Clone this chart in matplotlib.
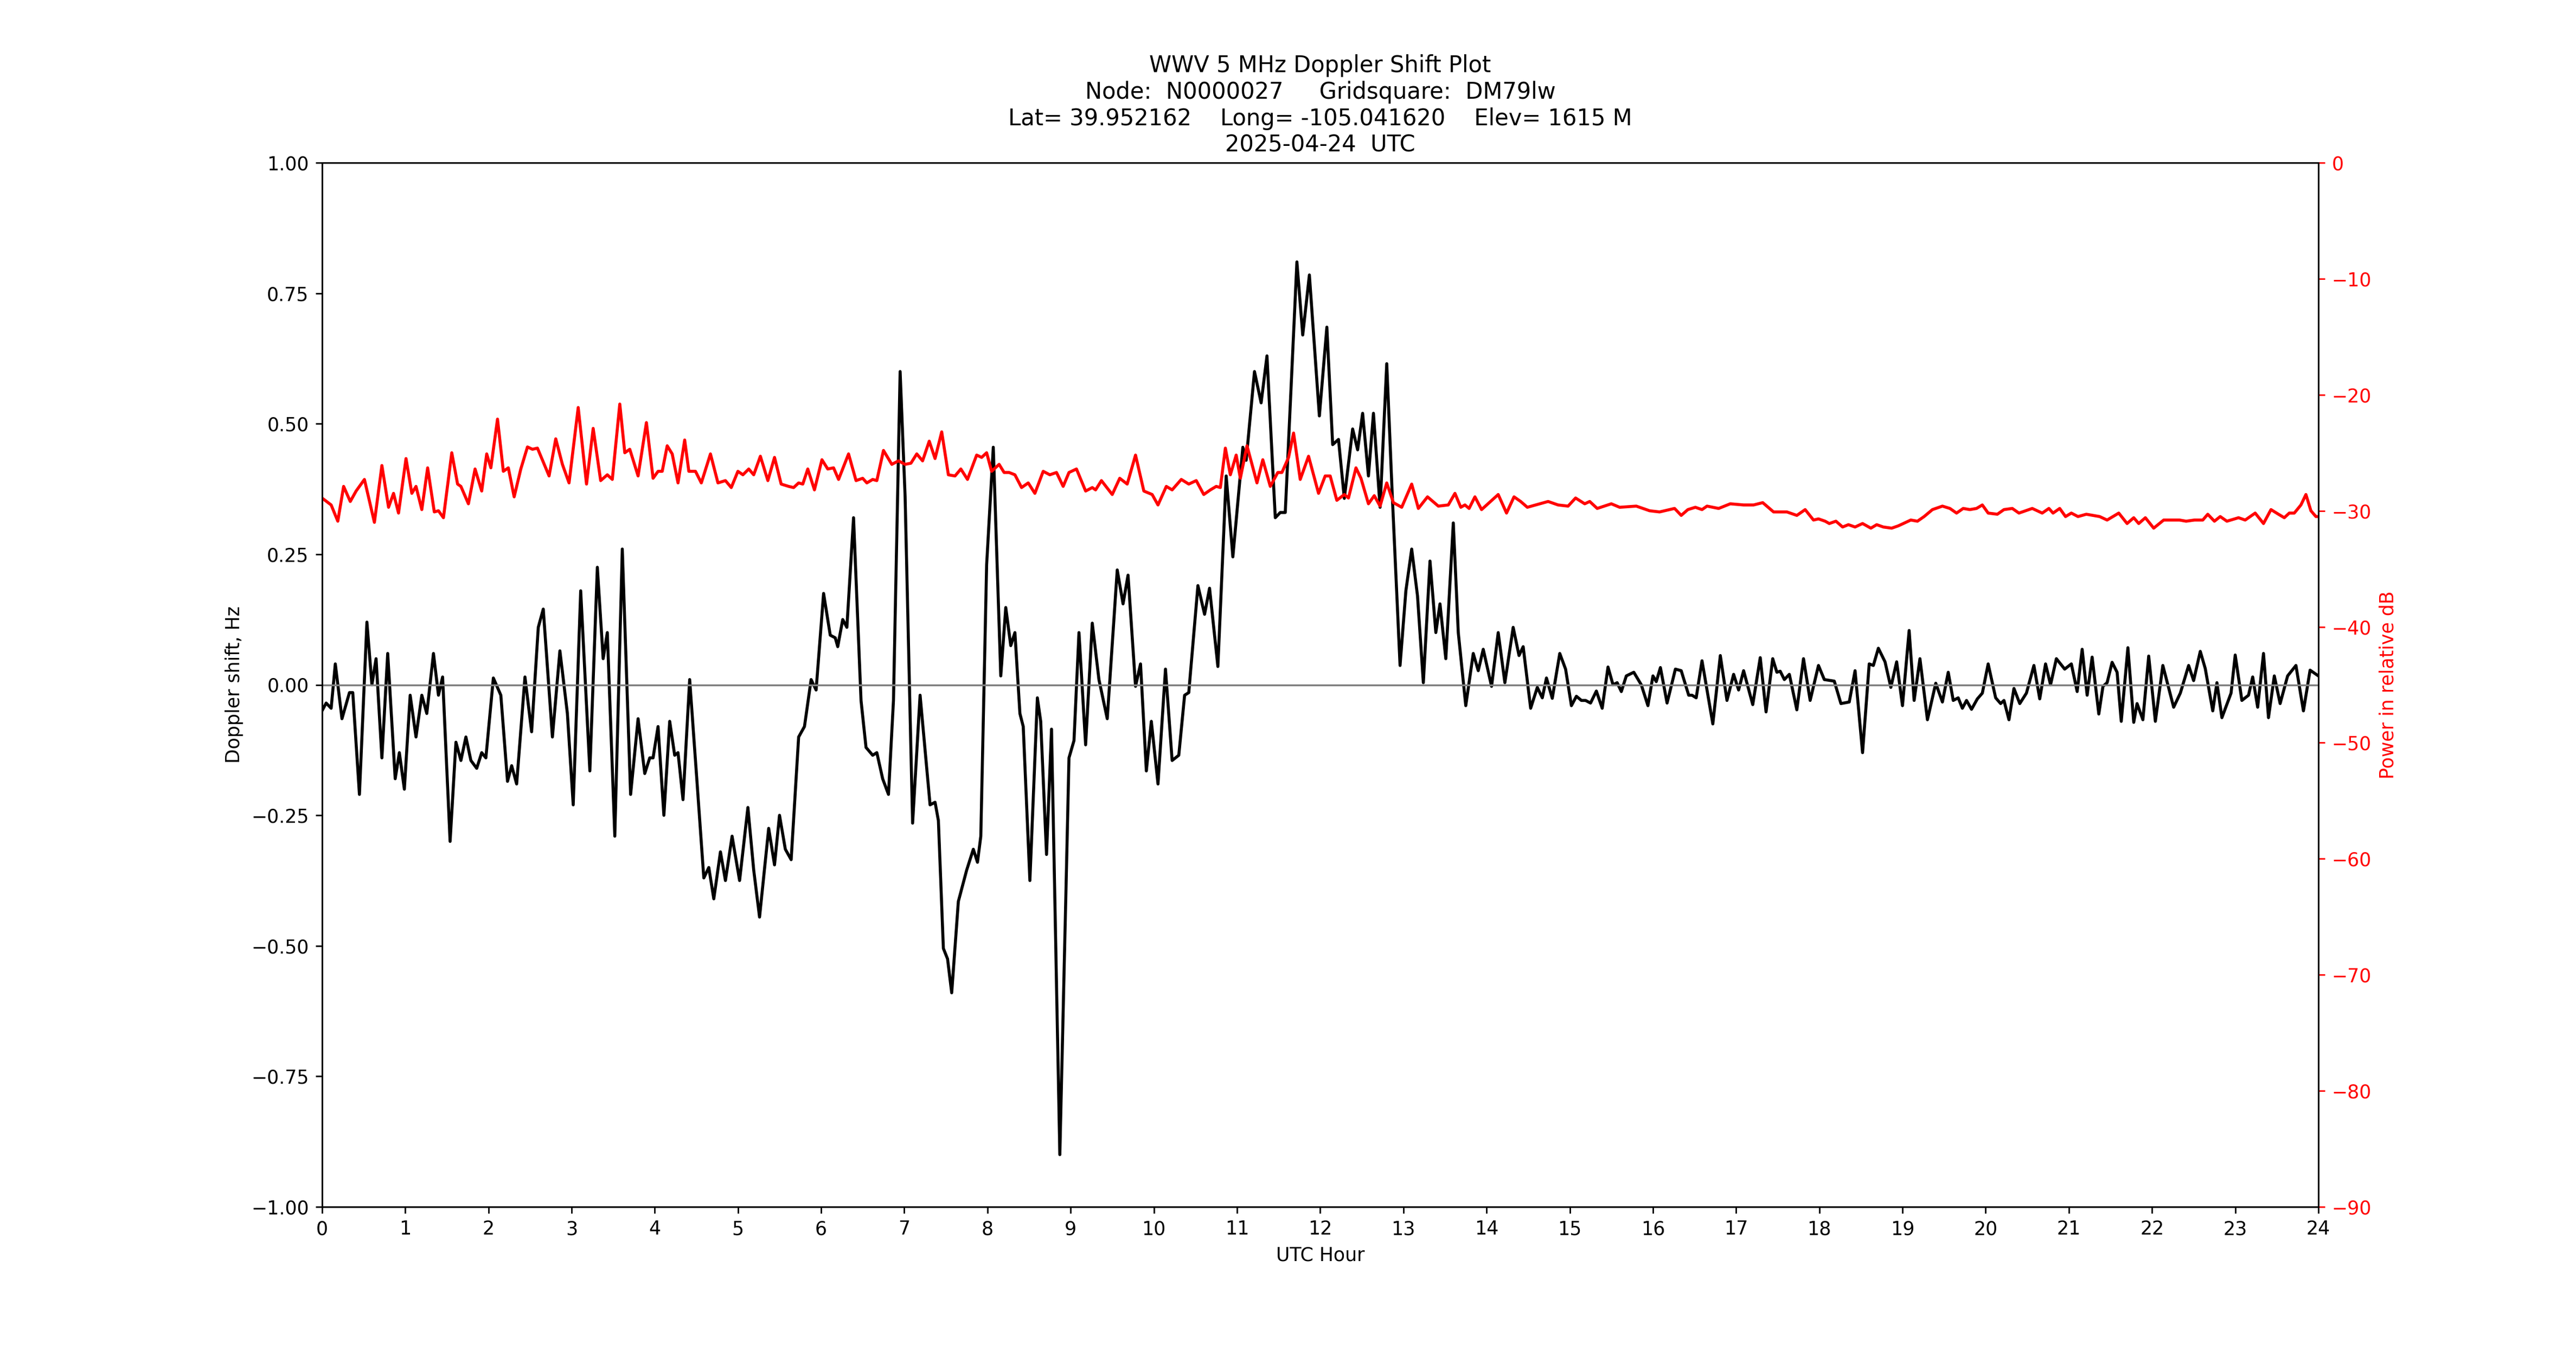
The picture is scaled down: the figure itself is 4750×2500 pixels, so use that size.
import numpy as np
import matplotlib.pyplot as plt

# Doppler shift (Hz), (UTC hour, value)
doppler_pts = [
    (0.00, -0.05), (0.05, -0.035), (0.11, -0.045), (0.16, 0.04), (0.24, -0.065), (0.33, -0.015), (0.37, -0.015),
    (0.45, -0.21), (0.54, 0.12), (0.60, 0.0), (0.65, 0.05), (0.72, -0.14), (0.79, 0.06), (0.88, -0.18),
    (0.93, -0.13), (0.99, -0.20), (1.06, -0.02), (1.13, -0.10), (1.20, -0.02), (1.26, -0.055), (1.34, 0.06),
    (1.40, -0.02), (1.45, 0.015), (1.54, -0.30), (1.61, -0.11), (1.67, -0.145), (1.73, -0.10), (1.79, -0.145),
    (1.86, -0.16), (1.92, -0.13), (1.97, -0.14), (2.06, 0.013), (2.15, -0.02), (2.23, -0.185), (2.28, -0.155),
    (2.34, -0.19), (2.44, 0.015), (2.52, -0.09), (2.60, 0.11), (2.66, 0.145), (2.77, -0.10), (2.86, 0.065),
    (2.95, -0.055), (3.02, -0.23), (3.11, 0.18), (3.22, -0.165), (3.31, 0.225), (3.38, 0.05), (3.43, 0.10),
    (3.52, -0.29), (3.61, 0.26), (3.71, -0.21), (3.80, -0.065), (3.88, -0.17), (3.94, -0.14), (3.98, -0.14),
    (4.04, -0.08), (4.11, -0.25), (4.18, -0.07), (4.24, -0.135), (4.28, -0.13), (4.34, -0.22), (4.42, 0.01),
    (4.51, -0.19), (4.59, -0.37), (4.65, -0.35), (4.71, -0.41), (4.79, -0.32), (4.85, -0.375), (4.93, -0.29),
    (5.02, -0.375), (5.12, -0.235), (5.19, -0.355), (5.26, -0.445), (5.37, -0.275), (5.44, -0.345),
    (5.50, -0.25), (5.57, -0.315), (5.64, -0.335), (5.73, -0.10), (5.80, -0.08), (5.88, 0.01), (5.94, -0.01),
    (6.03, 0.175), (6.11, 0.095), (6.17, 0.09), (6.20, 0.073), (6.26, 0.125), (6.31, 0.11), (6.39, 0.32),
    (6.48, -0.03), (6.54, -0.12), (6.62, -0.135), (6.67, -0.13), (6.74, -0.18), (6.81, -0.21), (6.87, -0.03),
    (6.95, 0.60), (7.01, 0.36), (7.10, -0.265), (7.19, -0.02), (7.31, -0.23), (7.37, -0.225), (7.41, -0.26),
    (7.47, -0.505), (7.52, -0.525), (7.57, -0.59), (7.65, -0.415), (7.75, -0.355), (7.83, -0.315),
    (7.88, -0.34), (7.92, -0.29), (7.99, 0.23), (8.07, 0.455), (8.12, 0.21), (8.16, 0.017), (8.22, 0.148),
    (8.28, 0.075), (8.33, 0.10), (8.39, -0.055), (8.43, -0.08), (8.51, -0.375), (8.60, -0.025), (8.64, -0.07),
    (8.71, -0.325), (8.77, -0.085), (8.87, -0.90), (8.94, -0.42), (8.98, -0.14), (9.04, -0.107), (9.10, 0.10),
    (9.18, -0.115), (9.26, 0.118), (9.34, 0.01), (9.44, -0.065), (9.56, 0.22), (9.63, 0.155), (9.69, 0.21),
    (9.78, -0.003), (9.84, 0.04), (9.91, -0.165), (9.97, -0.07), (10.05, -0.19), (10.14, 0.03),
    (10.22, -0.145), (10.30, -0.135), (10.37, -0.02), (10.42, -0.015), (10.53, 0.19), (10.61, 0.135),
    (10.67, 0.185), (10.77, 0.035), (10.87, 0.40), (10.95, 0.245), (11.07, 0.455), (11.11, 0.43),
    (11.21, 0.60), (11.29, 0.54), (11.36, 0.63), (11.46, 0.32), (11.52, 0.33), (11.58, 0.33), (11.72, 0.81),
    (11.79, 0.67), (11.87, 0.785), (11.99, 0.515), (12.08, 0.685), (12.15, 0.46), (12.22, 0.47),
    (12.29, 0.357), (12.39, 0.49), (12.45, 0.45), (12.51, 0.52), (12.58, 0.40), (12.64, 0.52), (12.72, 0.34),
    (12.80, 0.615), (12.87, 0.35), (12.96, 0.037), (13.03, 0.18), (13.10, 0.26), (13.17, 0.17),
    (13.24, 0.004), (13.32, 0.237), (13.39, 0.10), (13.44, 0.155), (13.51, 0.05), (13.60, 0.31),
    (13.66, 0.10), (13.75, -0.04), (13.84, 0.06), (13.90, 0.027), (13.96, 0.068), (14.06, -0.003),
    (14.14, 0.10), (14.22, 0.004), (14.32, 0.11), (14.39, 0.056), (14.44, 0.073), (14.53, -0.045),
    (14.61, -0.005), (14.67, -0.025), (14.72, 0.013), (14.79, -0.026), (14.88, 0.06), (14.95, 0.03),
    (15.02, -0.04), (15.08, -0.022), (15.14, -0.03), (15.19, -0.03), (15.25, -0.035), (15.32, -0.012),
    (15.39, -0.045), (15.46, 0.034), (15.52, 0.0), (15.57, 0.004), (15.62, -0.013), (15.68, 0.017),
    (15.77, 0.024), (15.86, 0.0), (15.94, -0.04), (16.00, 0.017), (16.04, 0.006), (16.09, 0.033),
    (16.17, -0.035), (16.27, 0.03), (16.34, 0.027), (16.43, -0.02), (16.47, -0.02), (16.52, -0.025),
    (16.59, 0.046), (16.72, -0.075), (16.81, 0.056), (16.89, -0.03), (16.97, 0.02), (17.03, -0.01),
    (17.09, 0.027), (17.20, -0.038), (17.29, 0.052), (17.36, -0.052), (17.44, 0.05), (17.49, 0.024),
    (17.53, 0.026), (17.58, 0.01), (17.64, 0.02), (17.73, -0.048), (17.81, 0.05), (17.89, -0.03),
    (17.99, 0.037), (18.06, 0.01), (18.18, 0.007), (18.26, -0.036), (18.36, -0.033), (18.43, 0.027),
    (18.52, -0.13), (18.60, 0.04), (18.65, 0.037), (18.71, 0.07), (18.79, 0.044), (18.86, -0.005),
    (18.93, 0.044), (19.00, -0.04), (19.08, 0.104), (19.14, -0.03), (19.21, 0.05), (19.30, -0.067),
    (19.40, 0.003), (19.48, -0.033), (19.55, 0.024), (19.61, -0.03), (19.67, -0.025), (19.72, -0.045),
    (19.77, -0.03), (19.83, -0.047), (19.90, -0.027), (19.96, -0.016), (20.03, 0.04), (20.12, -0.025),
    (20.18, -0.036), (20.22, -0.03), (20.28, -0.067), (20.34, -0.007), (20.41, -0.036), (20.49, -0.016),
    (20.58, 0.037), (20.65, -0.027), (20.72, 0.04), (20.78, 0.0), (20.85, 0.05), (20.95, 0.03), (21.03, 0.04),
    (21.10, -0.013), (21.16, 0.068), (21.22, -0.02), (21.28, 0.053), (21.36, -0.056), (21.41, -0.003),
    (21.46, 0.004), (21.52, 0.043), (21.58, 0.024), (21.63, -0.07), (21.71, 0.071), (21.78, -0.072),
    (21.82, -0.036), (21.89, -0.067), (21.96, 0.055), (22.04, -0.07), (22.13, 0.037), (22.26, -0.043),
    (22.34, -0.016), (22.44, 0.037), (22.50, 0.008), (22.58, 0.064), (22.64, 0.031), (22.73, -0.05),
    (22.78, 0.004), (22.84, -0.063), (22.95, -0.016), (23.00, 0.057), (23.08, -0.03), (23.16, -0.02),
    (23.21, 0.015), (23.27, -0.043), (23.34, 0.06), (23.40, -0.063), (23.47, 0.017), (23.54, -0.036),
    (23.63, 0.017), (23.73, 0.037), (23.82, -0.05), (23.90, 0.028), (24.00, 0.017),
]

# Received power (dB), (UTC hour, value)
power_pts = [
    (0.00, -28.9), (0.11, -29.5), (0.19, -30.9), (0.26, -27.9), (0.34, -29.2), (0.41, -28.3), (0.51, -27.3),
    (0.63, -31.0), (0.72, -26.1), (0.80, -29.7), (0.86, -28.5), (0.92, -30.2), (1.01, -25.5), (1.08, -28.5),
    (1.13, -27.9), (1.20, -29.9), (1.27, -26.3), (1.35, -30.1), (1.40, -30.0), (1.46, -30.6), (1.56, -25.0),
    (1.63, -27.7), (1.67, -27.9), (1.76, -29.4), (1.84, -26.4), (1.92, -28.3), (1.98, -25.1), (2.03, -26.3),
    (2.11, -22.1), (2.18, -26.6), (2.24, -26.3), (2.31, -28.8), (2.39, -26.4), (2.47, -24.5), (2.53, -24.7),
    (2.59, -24.6), (2.73, -27.0), (2.81, -23.8), (2.89, -26.0), (2.97, -27.6), (3.08, -21.1), (3.18, -27.7),
    (3.26, -22.9), (3.35, -27.4), (3.43, -26.9), (3.49, -27.3), (3.58, -20.8), (3.64, -25.0), (3.70, -24.7),
    (3.80, -27.0), (3.90, -22.4), (3.98, -27.2), (4.04, -26.6), (4.09, -26.6), (4.15, -24.4), (4.21, -25.1),
    (4.28, -27.6), (4.36, -23.9), (4.41, -26.6), (4.49, -26.6), (4.56, -27.6), (4.67, -25.1), (4.76, -27.6),
    (4.85, -27.4), (4.92, -28.0), (5.00, -26.6), (5.06, -26.9), (5.13, -26.4), (5.19, -26.9), (5.27, -25.3),
    (5.36, -27.4), (5.44, -25.4), (5.52, -27.7), (5.61, -27.9), (5.67, -28.0), (5.73, -27.6), (5.78, -27.7),
    (5.84, -26.4), (5.92, -28.2), (6.01, -25.6), (6.08, -26.4), (6.15, -26.3), (6.21, -27.3), (6.33, -25.1),
    (6.42, -27.4), (6.50, -27.2), (6.55, -27.6), (6.62, -27.3), (6.67, -27.4), (6.75, -24.8), (6.85, -26.0),
    (6.93, -25.7), (7.01, -26.0), (7.08, -25.9), (7.15, -25.1), (7.22, -25.7), (7.30, -24.0), (7.37, -25.5),
    (7.45, -23.2), (7.53, -26.9), (7.61, -27.0), (7.68, -26.4), (7.76, -27.3), (7.87, -25.2), (7.93, -25.4),
    (7.99, -25.0), (8.05, -26.6), (8.14, -26.0), (8.20, -26.7), (8.26, -26.7), (8.33, -26.9), (8.41, -28.0),
    (8.49, -27.6), (8.57, -28.5), (8.67, -26.6), (8.75, -26.9), (8.83, -26.7), (8.91, -27.9), (8.98, -26.7),
    (9.07, -26.4), (9.18, -28.3), (9.26, -28.0), (9.30, -28.2), (9.37, -27.4), (9.50, -28.6), (9.59, -27.2),
    (9.68, -27.7), (9.78, -25.2), (9.88, -28.3), (9.98, -28.6), (10.05, -29.5), (10.15, -27.9), (10.22, -28.2),
    (10.33, -27.3), (10.42, -27.7), (10.51, -27.4), (10.60, -28.6), (10.68, -28.2), (10.75, -27.9),
    (10.80, -28.0), (10.86, -24.6), (10.92, -26.9), (10.99, -25.2), (11.04, -27.2), (11.12, -24.4),
    (11.24, -27.6), (11.31, -25.6), (11.40, -27.9), (11.49, -26.7), (11.54, -26.7), (11.62, -25.4),
    (11.68, -23.3), (11.76, -27.3), (11.86, -25.3), (11.98, -28.5), (12.06, -27.0), (12.12, -27.0),
    (12.20, -29.1), (12.29, -28.6), (12.34, -28.9), (12.43, -26.3), (12.49, -27.2), (12.58, -29.4),
    (12.65, -28.7), (12.72, -29.6), (12.80, -27.6), (12.88, -29.3), (12.98, -29.7), (13.10, -27.7),
    (13.18, -29.8), (13.29, -28.8), (13.42, -29.6), (13.54, -29.5), (13.62, -28.5), (13.69, -29.7),
    (13.74, -29.5), (13.79, -29.8), (13.86, -28.8), (13.94, -29.9), (14.14, -28.6), (14.24, -30.2),
    (14.33, -28.8), (14.41, -29.2), (14.49, -29.7), (14.74, -29.2), (14.86, -29.5), (14.98, -29.6),
    (15.07, -28.9), (15.18, -29.4), (15.24, -29.2), (15.33, -29.8), (15.50, -29.4), (15.60, -29.7),
    (15.80, -29.6), (15.96, -30.0), (16.08, -30.1), (16.26, -29.8), (16.34, -30.4), (16.42, -29.9),
    (16.51, -29.7), (16.59, -29.9), (16.65, -29.6), (16.79, -29.8), (16.93, -29.4), (17.09, -29.5),
    (17.21, -29.5), (17.32, -29.3), (17.45, -30.1), (17.61, -30.1), (17.73, -30.4), (17.83, -29.9),
    (17.93, -30.8), (17.99, -30.7), (18.07, -30.9), (18.12, -31.1), (18.20, -30.9), (18.28, -31.4),
    (18.35, -31.2), (18.43, -31.4), (18.52, -31.1), (18.62, -31.5), (18.69, -31.2), (18.77, -31.4),
    (18.87, -31.5), (18.95, -31.3), (19.10, -30.8), (19.18, -30.9), (19.26, -30.5), (19.36, -29.9),
    (19.48, -29.6), (19.57, -29.8), (19.65, -30.2), (19.73, -29.8), (19.81, -29.9), (19.89, -29.8),
    (19.96, -29.5), (20.03, -30.2), (20.14, -30.3), (20.22, -29.9), (20.32, -29.8), (20.40, -30.2),
    (20.56, -29.8), (20.68, -30.2), (20.76, -29.8), (20.81, -30.2), (20.89, -29.8), (20.96, -30.5),
    (21.03, -30.2), (21.11, -30.5), (21.21, -30.3), (21.37, -30.5), (21.46, -30.8), (21.60, -30.2),
    (21.70, -31.1), (21.78, -30.6), (21.84, -31.1), (21.92, -30.6), (22.02, -31.5), (22.14, -30.8),
    (22.33, -30.8), (22.41, -30.9), (22.51, -30.8), (22.61, -30.8), (22.67, -30.3), (22.75, -30.9),
    (22.82, -30.5), (22.90, -30.9), (23.04, -30.6), (23.12, -30.8), (23.24, -30.2), (23.34, -31.1),
    (23.43, -29.9), (23.52, -30.3), (23.59, -30.6), (23.65, -30.2), (23.71, -30.2), (23.79, -29.5),
    (23.85, -28.6), (23.91, -30.0), (23.97, -30.5), (24.00, -30.5),
]

dop_t, dop_v = np.array(doppler_pts).T
pwr_t, pwr_v = np.array(power_pts).T

fig, ax = plt.subplots(figsize=(19, 10), dpi=250)
ax.plot(dop_t, dop_v, color='black', linewidth=1.6)
ax.axhline(0, color='grey', linewidth=1)
ax.set_xlim(0, 24)
ax.set_ylim(-1, 1)
ax.set_xticks(range(0, 25))
ax.set_yticks([-1, -0.75, -0.5, -0.25, 0, 0.25, 0.5, 0.75, 1])
ax.set_xlabel('UTC Hour')
ax.set_ylabel('Doppler shift, Hz')
ax.set_title('WWV 5 MHz Doppler Shift Plot\n'
             'Node:  N0000027     Gridsquare:  DM79lw\n'
             'Lat= 39.952162    Long= -105.041620    Elev= 1615 M\n'
             '2025-04-24  UTC')

ax2 = ax.twinx()
ax2.plot(pwr_t, pwr_v, color='red', linewidth=1.6)
ax2.set_ylim(-90, 0)
ax2.set_yticks(range(-90, 1, 10))
ax2.set_ylabel('Power in relative dB', color='red')
ax2.tick_params(axis='y', colors='red')

fig.savefig('out.png')
